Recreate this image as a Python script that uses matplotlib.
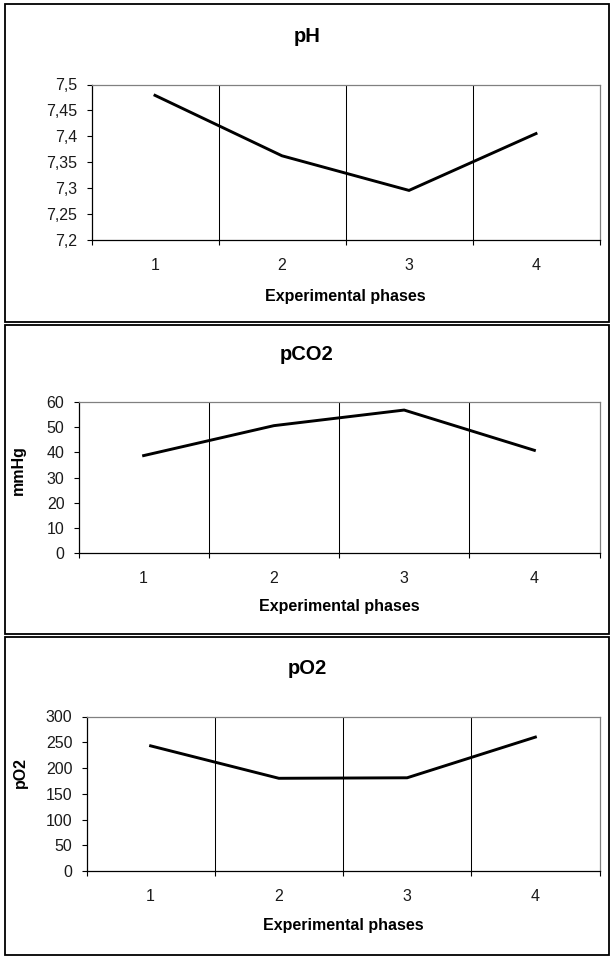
import numpy as np
import matplotlib
matplotlib.use("Agg")
import matplotlib.pyplot as plt
from matplotlib.patches import Rectangle

plt.rcParams['font.family'] = ['Liberation Sans', 'DejaVu Sans']

# ---- data ----
phases = [1, 2, 3, 4]
xlabel_text = "Experimental phases"

ph_title = "pH"
ph_values = [7.479, 7.362, 7.295, 7.405]
ph_ticks = [7.2, 7.25, 7.3, 7.35, 7.4, 7.45, 7.5]
ph_tick_labels = ["7,2", "7,25", "7,3", "7,35", "7,4", "7,45", "7,5"]

pco2_title = "pCO2"
pco2_ylabel = "mmHg"
pco2_values = [38.7, 50.6, 56.8, 40.8]
pco2_ticks = [0, 10, 20, 30, 40, 50, 60]
pco2_tick_labels = ["0", "10", "20", "30", "40", "50", "60"]

po2_title = "pO2"
po2_ylabel = "pO2"
po2_values = [243, 180, 181, 260]
po2_ticks = [0, 50, 100, 150, 200, 250, 300]
po2_tick_labels = ["0", "50", "100", "150", "200", "250", "300"]

# ---- layout (pixels) ----
W, H = 615, 960
fig = plt.figure(figsize=(W / 100, H / 100), dpi=100)


def fx(x):
    return x / W


def fy(y):
    return 1 - y / H


panels = [
    dict(title=ph_title, ylabel=None, values=ph_values, ticks=ph_ticks,
         labels=ph_tick_labels, box=(4.5, 4, 608.5, 321.5),
         ax=(91.5, 84.5, 599.5, 239.5), title_y=42.5, xlab_y=300.5,
         ylab=None),
    dict(title=pco2_title, ylabel=pco2_ylabel, values=pco2_values,
         ticks=pco2_ticks, labels=pco2_tick_labels, box=(4.5, 325, 608.5, 634),
         ax=(78.5, 402, 599.5, 553), title_y=360.5, xlab_y=611.5,
         ylab=(18.5, 470)),
    dict(title=po2_title, ylabel=po2_ylabel, values=po2_values,
         ticks=po2_ticks, labels=po2_tick_labels, box=(4.5, 637, 608.5, 954.5),
         ax=(86.5, 716.5, 599.5, 871), title_y=673.5, xlab_y=930,
         ylab=(20.5, 772)),
]

n = len(phases)
for p in panels:
    bx0, by0, bx1, by1 = p["box"]
    fig.patches.append(Rectangle((fx(bx0), fy(by1)), fx(bx1 - bx0), (by1 - by0) / H,
                                 transform=fig.transFigure, fill=False,
                                 edgecolor="black", linewidth=1.3, zorder=0))
    x0, y0, x1, y1 = p["ax"]
    ax = fig.add_axes([fx(x0), fy(y1), fx(x1 - x0), (y1 - y0) / H])
    ax.plot(phases, p["values"], color="black", linewidth=2.1, zorder=3,
            solid_joinstyle="miter")
    ax.set_xlim(0.5, n + 0.5)
    ax.set_ylim(p["ticks"][0], p["ticks"][-1])
    boundaries = np.arange(1.5, n, 1.0)
    ax.vlines(boundaries, p["ticks"][0], p["ticks"][-1], colors="black",
              linewidth=0.75, zorder=1)
    ax.set_yticks(p["ticks"])
    ax.set_yticklabels(p["labels"], fontsize=11.5, color="#1a1a1a")
    ax.set_xticks(np.arange(0.5, n + 1, 1.0))
    ax.set_xticklabels([])
    ax.set_xticks(phases, minor=True)
    ax.set_xticklabels([str(v) for v in phases], minor=True, fontsize=11.5,
                       color="#1a1a1a")
    ax.tick_params(axis="x", which="major", direction="out", length=3.6,
                   width=0.8, color="black")
    ax.tick_params(axis="x", which="minor", length=0, pad=13)
    ax.tick_params(axis="y", direction="out", length=3.6, width=0.8,
                   pad=6.5, color="black")
    for s in ("left", "bottom"):
        ax.spines[s].set_color("black")
        ax.spines[s].set_linewidth(0.9)
    for s in ("top", "right"):
        ax.spines[s].set_color("#808080")
        ax.spines[s].set_linewidth(0.9)
    # title
    fig.text(fx(307), fy(p["title_y"]), p["title"], ha="center", va="baseline",
             fontsize=14.5, fontweight="bold")
    # x label
    fig.text(fx((x0 + x1) / 2), fy(p["xlab_y"]), xlabel_text, ha="center",
             va="baseline", fontsize=11.5, fontweight="bold")
    if p["ylabel"]:
        lx, ly = p["ylab"]
        fig.text(fx(lx), fy(ly), p["ylabel"], ha="center", va="center",
                 rotation=90, fontsize=11.5, fontweight="bold")

fig.savefig("out.png", dpi=100, facecolor="white")
